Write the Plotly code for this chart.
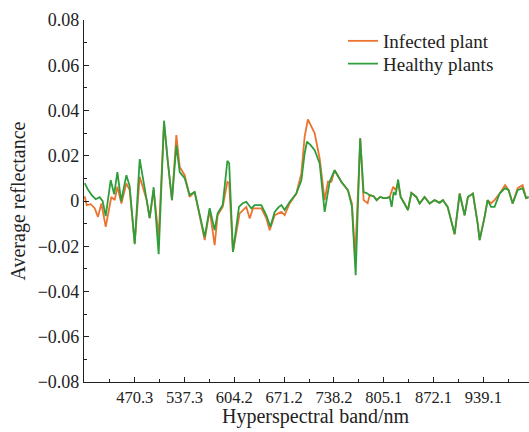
import plotly.graph_objects as go

# Average reflectance (first-derivative spectra) of infected vs healthy plants
infected_wl = [403.0, 405.7, 411.1, 416.5, 420.9, 425.5, 431.3, 438.9, 443.4, 447.0,
               452.4, 459.1, 463.5, 470.3, 477.0, 482.8, 486.4, 490.4, 495.8, 502.5,
               509.7, 514.6, 520.4, 526.3, 530.8, 537.5, 544.2, 550.9, 557.6, 564.4,
               571.1, 577.8, 581.8, 588.6, 594.9, 597.3, 602.4, 611.4, 620.4, 624.9,
               629.3, 640.6, 647.3, 651.8, 658.5, 667.5, 671.9, 678.6, 687.6, 694.4,
               698.8, 703.2, 712.3, 719.0, 725.7, 730.1, 734.7, 739.1, 748.1, 757.0,
               762.4, 766.7, 773.7, 778.1, 783.5, 786.2, 791.6, 795.6, 800.3, 805.0,
               809.0, 813.1, 817.8, 821.1, 824.5, 827.9, 833.2, 837.7, 842.3, 849.0,
               853.4, 860.1, 866.9, 873.6, 880.3, 884.7, 891.1, 900.5, 907.2, 913.9,
               918.3, 925.1, 931.4, 934.1, 940.8, 944.8, 949.5, 954.2, 961.0, 968.4,
               973.1, 978.5, 985.2, 991.9, 996.6, 1000.0]
infected_val = [0.0021, -0.0018, -0.0014, -0.0032, -0.0070, -0.0011, -0.0114, 0.0018, 0.0004, 0.0063,
                -0.0011, 0.0078, 0.0048, -0.0186, 0.0107, 0.0048, 0.0004, -0.0076, 0.0048, -0.0159,
                0.0344, 0.0181, 0.0004, 0.0291, 0.0151, 0.0114, 0.0018, 0.0040, -0.0070, -0.0173,
                -0.0040, -0.0195, -0.0063, -0.0026, 0.0085, 0.0079, -0.0225, -0.0055, -0.0026, -0.0077,
                -0.0033, -0.0033, -0.0077, -0.0129, -0.0063, -0.0048, -0.0063, -0.0011, 0.0033, 0.0122,
                0.0284, 0.0361, 0.0299, 0.0188, 0.0004, 0.0085, 0.0085, 0.0136, 0.0085, 0.0048,
                -0.0011, -0.0247, 0.0277, 0.0004, -0.0010, 0.0026, 0.0021, 0.0004, 0.0018, 0.0013,
                0.0013, 0.0018, 0.0063, 0.0048, 0.0079, 0.0018, -0.0011, -0.0040, 0.0036, 0.0018,
                -0.0011, 0.0018, -0.0011, 0.0004, -0.0008, 0.0004, -0.0026, -0.0147, 0.0033, -0.0063,
                0.0018, 0.0033, -0.0098, -0.0173, -0.0070, 0.0004, -0.0010, 0.0004, 0.0033, 0.0070,
                0.0048, -0.0011, 0.0057, 0.0070, 0.0013, 0.0017]

healthy_wl = [403.0, 407.1, 412.5, 417.8, 423.2, 427.2, 431.3, 438.0, 442.7, 447.0,
              452.1, 459.1, 463.5, 470.3, 477.0, 482.4, 486.4, 490.4, 495.8, 502.5,
              509.7, 514.6, 520.4, 526.3, 530.8, 537.5, 544.2, 550.9, 557.6, 564.4,
              571.1, 577.8, 581.8, 588.6, 594.9, 597.3, 602.4, 610.5, 615.5, 620.4,
              627.2, 631.6, 640.6, 647.3, 652.7, 658.5, 663.9, 667.5, 671.9, 678.6,
              687.6, 694.4, 698.8, 701.9, 706.9, 712.3, 719.0, 725.7, 732.4, 739.1,
              748.1, 757.0, 762.4, 764.7, 767.4, 773.4, 778.1, 782.2, 786.2, 791.6,
              795.6, 800.3, 805.0, 809.0, 813.1, 815.8, 818.5, 821.1, 824.5, 827.9,
              833.2, 837.7, 842.3, 849.0, 853.4, 860.1, 866.9, 873.6, 880.3, 884.7,
              891.1, 900.5, 907.2, 913.9, 918.3, 925.1, 931.4, 934.1, 940.8, 944.8,
              949.5, 954.2, 961.0, 968.4, 973.1, 978.5, 985.2, 991.9, 996.6, 1000.0]
healthy_val = [0.0079, 0.0052, 0.0026, 0.0008, 0.0017, -0.0001, -0.0067, 0.0092, 0.0030, 0.0128,
               -0.0001, 0.0114, 0.0066, -0.0191, 0.0185, 0.0088, 0.0004, -0.0076, 0.0061, -0.0235,
               0.0355, 0.0181, 0.0004, 0.0247, 0.0128, 0.0101, 0.0026, 0.0040, -0.0063, -0.0159,
               -0.0032, -0.0129, -0.0054, -0.0018, 0.0178, 0.0167, -0.0225, -0.0026, -0.0010, -0.0004,
               -0.0033, -0.0018, -0.0018, -0.0063, -0.0114, -0.0048, -0.0027, -0.0018, -0.0040, -0.0004,
               0.0033, 0.0092, 0.0210, 0.0262, 0.0247, 0.0225, 0.0166, -0.0048, 0.0085, 0.0136,
               0.0085, 0.0048, -0.0026, -0.0173, -0.0328, 0.0277, 0.0039, 0.0035, 0.0026, 0.0021,
               0.0004, 0.0018, 0.0013, 0.0013, 0.0018, -0.0026, 0.0040, 0.0026, 0.0095, 0.0018,
               -0.0011, -0.0040, 0.0036, 0.0018, -0.0011, 0.0018, -0.0011, 0.0004, -0.0008, 0.0004,
               -0.0026, -0.0147, 0.0033, -0.0063, 0.0018, 0.0033, -0.0098, -0.0173, -0.0070, 0.0004,
               -0.0026, -0.0026, 0.0033, 0.0057, 0.0048, -0.0011, 0.0048, 0.0057, 0.0013, 0.0017]

x_ticks = [470.3, 537.3, 604.2, 671.2, 738.2, 805.1, 872.1, 939.1]
x_minor = [436.8, 503.8, 570.75, 637.7, 704.7, 771.65, 838.6, 905.6, 972.6]
y_ticks = [0.08, 0.06, 0.04, 0.02, 0, -0.02, -0.04, -0.06, -0.08]
y_labels = ["0.08", "0.06", "0.04", "0.02", "0", "\u22120.02", "\u22120.04", "\u22120.06", "\u22120.08"]
y_minor = [0.07, 0.05, 0.03, 0.01, -0.01, -0.03, -0.05, -0.07]

FONT = "Liberation Serif, Times New Roman, serif"
INK = "#222"

fig = go.Figure()
fig.add_trace(go.Scatter(x=infected_wl, y=infected_val, mode="lines", name="Infected plant",
                         line=dict(color="#EC7430", width=1.8), legend="legend"))
fig.add_trace(go.Scatter(x=healthy_wl, y=healthy_val, mode="lines", name="Healthy plants",
                         line=dict(color="#2F9E3A", width=1.8), legend="legend2"))

legend_style = dict(xanchor="left", yanchor="middle", bgcolor="rgba(0,0,0,0)",
                    font=dict(size=19), itemwidth=30)

fig.update_layout(
    width=529, height=432,
    margin=dict(l=84, r=0, t=20, b=50),
    paper_bgcolor="white", plot_bgcolor="white",
    font=dict(family=FONT, size=16, color=INK),
    showlegend=True,
    legend=dict(x=0.582, y=0.942, **legend_style),
    legend2=dict(x=0.582, y=0.879, **legend_style),
    annotations=[dict(text="Hyperspectral band/nm", xref="paper", yref="paper",
                      x=0.521, y=-0.094, xanchor="center", yanchor="middle",
                      showarrow=False, font=dict(size=20))],
)
fig.update_xaxes(
    range=[402.1, 1000.5], tickmode="array", tickvals=x_ticks,
    ticktext=[f"{v:.1f}" for v in x_ticks], tickfont=dict(size=16.5),
    showline=True, linecolor=INK, linewidth=1.2, mirror=False,
    ticks="inside", ticklen=5, tickcolor=INK, showgrid=False, zeroline=False,
    minor=dict(tickmode="array", tickvals=x_minor, ticks="inside", ticklen=3, tickcolor=INK),
    automargin=False,
)
fig.update_yaxes(
    range=[-0.08, 0.08], tickmode="array", tickvals=y_ticks, ticktext=y_labels,
    tickfont=dict(size=18),
    showline=True, linecolor=INK, linewidth=1.2,
    ticks="inside", ticklen=5, tickcolor=INK, showgrid=False, zeroline=False,
    minor=dict(tickmode="array", tickvals=y_minor, ticks="inside", ticklen=3, tickcolor=INK),
    title=dict(text="Average reflectance", font=dict(size=20), standoff=6), automargin=False,
)

fig.write_html("out.html")
